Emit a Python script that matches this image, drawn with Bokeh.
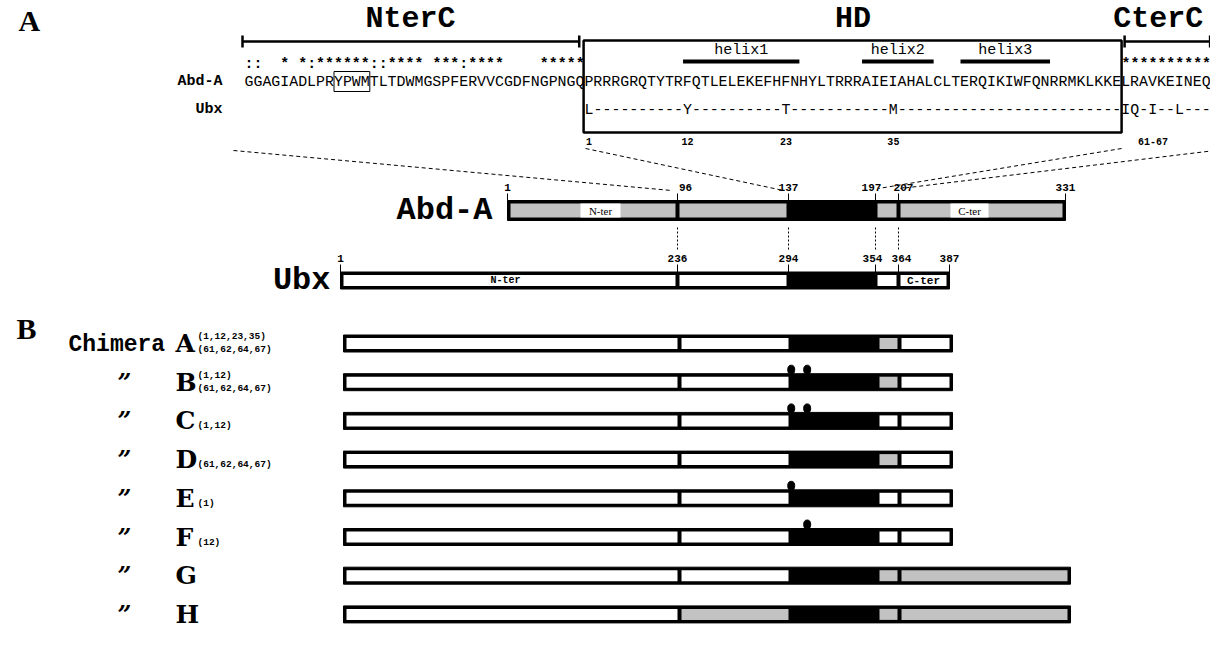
from bokeh.plotting import figure
from bokeh.models import Range1d
from bokeh.core.properties import value
from bokeh.embed import file_html
from bokeh.resources import INLINE
import numpy as np

# ---------------- data ----------------
nterc_seq = "GGAGIADLPRYPWMTLTDWMGSPFERVVCGDFNGPNGQ"
hd_seq = "PRRRGRQTYTRFQTLELEKEFHFNHYLTRRRAIEIAHALCLTERQIKIWFQNRRMKLKKE"
cterc_seq = "LRAVKEINEQ"
nterc_cons = "::  * *:******::**** ***:****    *****"
cterc_cons = "**********"
ubx_hd_pos = [1, 12, 23, 35]
ubx_hd_res = ["L", "Y", "T", "M"]
ubx_cterc = "IQ-I--L---"
cterc_mark = "61-67"
ypwm_start, ypwm_len = 10, 4
helix_names = ["helix1", "helix2", "helix3"]
helix_start = [12, 32, 43]
helix_end = [24, 39, 52]
region_names = ["NterC", "HD", "CterC"]

abd_bounds = [1, 96, 137, 197, 207, 331]
ubx_bounds = [1, 236, 294, 354, 364, 387]

chimera_names = ["A", "B", "C", "D", "E", "F", "G", "H"]
chimera_sup = ["(1,12,23,35)", "(1,12)", "", "", "", "", "", ""]
chimera_sub = ["(61,62,64,67)", "(61,62,64,67)", "(1,12)", "(61,62,64,67)", "(1)", "(12)", "", ""]
linker_src = ["Ubx", "Ubx", "Ubx", "Ubx", "Ubx", "Ubx", "Ubx", "AbdA"]
post_src = ["AbdA", "AbdA", "Ubx", "AbdA", "Ubx", "Ubx", "AbdA", "AbdA"]
cter_src = ["Ubx", "Ubx", "Ubx", "Ubx", "Ubx", "Ubx", "AbdA", "AbdA"]
hd_dots = [[], [1, 12], [1, 12], [], [1], [12], [], []]

# ---------------- layout ----------------
GRAY = "#c2c2c2"
WHITE = "#ffffff"
MONO = "Liberation Mono"
SERIF = "Liberation Serif"

p = figure(width=1210, height=642, x_range=Range1d(0, 1210), y_range=Range1d(642, 0),
           output_backend="svg", toolbar_location=None, min_border=0,
           x_axis_location=None, y_axis_location=None)
p.grid.visible = False
p.outline_line_color = None
p.background_fill_color = "white"
p.border_fill_color = "white"


def txt(x, y, s, size, font=MONO, style="normal", align="center", color="black"):
    p.text(x=[x], y=[y], text=[s], text_font=value(font), text_font_size=f"{size}px",
           text_font_style=style, text_align=align, text_baseline="middle", text_color=color)


# ---- panel A : alignment ----
X0, PITCH = 244.0, 8.95
FS = PITCH / 0.6
Y_HEAD, Y_BR, Y_HLAB, Y_CONS, Y_ABD, Y_UBX, Y_NUM = 18, 41, 50, 63, 81, 109, 141
n_n, n_hd, n_c = len(nterc_seq), len(hd_seq), len(cterc_seq)


def cx(i):
    return X0 + i * PITCH


txt(18, 20, "A", 30, SERIF, "bold", "left")

# brackets / box
p.segment(x0=[cx(0) - 2, cx(n_n + n_hd) + 3], y0=[Y_BR, Y_BR],
          x1=[cx(n_n - 0.6), cx(n_n + n_hd + n_c) - 1], y1=[Y_BR, Y_BR],
          line_width=2.5, line_color="black")
for xx in [cx(0) - 2, cx(n_n - 0.6), cx(n_n + n_hd) + 3, cx(n_n + n_hd + n_c) - 1]:
    p.segment(x0=[xx], y0=[Y_BR - 6], x1=[xx], y1=[Y_BR + 6], line_width=2.5, line_color="black")
p.quad(left=[cx(n_n) - 1], right=[cx(n_n + n_hd)], top=[40], bottom=[132],
       fill_alpha=0, line_color="black", line_width=2.5)

heads_x = [(cx(0) + cx(n_n)) / 2 - 4, (cx(n_n) + cx(n_n + n_hd)) / 2, (cx(n_n + n_hd) + cx(n_n + n_hd + n_c)) / 2 - 8]
for name, hx in zip(region_names, heads_x):
    txt(hx, Y_HEAD, name, 30, MONO, "bold")

# helices
for nm, s, e in zip(helix_names, helix_start, helix_end):
    l, r = cx(n_n + s - 1), cx(n_n + e)
    p.segment(x0=[l], y0=[Y_CONS - 2], x1=[r], y1=[Y_CONS - 2], line_width=4, line_color="black")
    txt((l + r) / 2, Y_HLAB, nm, 15, MONO)

# conservation row
cons = nterc_cons + " " * n_hd + cterc_cons
i = 0
while i < len(cons):
    if cons[i] == " ":
        i += 1
        continue
    j = i
    while j < len(cons) and cons[j] != " ":
        j += 1
    txt(cx(i), Y_CONS, cons[i:j], FS, MONO, "bold", "left")
    i = j

# sequences
txt(222, Y_ABD, "Abd-A", 15, MONO, "bold", "right")
txt(222, Y_UBX, "Ubx", 15, MONO, "bold", "right")
txt(cx(0), Y_ABD, nterc_seq + hd_seq + cterc_seq, FS, MONO, "normal", "left")
ubx_hd = ["-"] * n_hd
for pos, res in zip(ubx_hd_pos, ubx_hd_res):
    ubx_hd[pos - 1] = res
txt(cx(n_n), Y_UBX, "".join(ubx_hd) + ubx_cterc, FS, MONO, "normal", "left")
p.quad(left=[cx(ypwm_start)], right=[cx(ypwm_start + ypwm_len)], top=[Y_ABD - 10], bottom=[Y_ABD + 10],
       fill_alpha=0, line_color="black", line_width=1)

for pos in ubx_hd_pos:
    txt(cx(n_n + pos - 0.5), Y_NUM, str(pos), 10, MONO, "bold")
txt(cx(n_n + 63.5), Y_NUM, cterc_mark, 10, MONO, "bold")

# ---- protein schematics ----
COLS = [677, 788, 875, 898]
ABD_X = [507] + COLS + [1065]
UBX_X = [340] + COLS + [949]


def bar(xs, fills, yc, h, b=3):
    p.quad(left=[xs[0]], right=[xs[-1]], top=[yc - h / 2], bottom=[yc + h / 2],
           fill_color="black", line_color="black", line_width=1)
    for k, f in enumerate(fills):
        if f is None:
            continue
        l = xs[k] + (b if k == 0 else 2)
        r = xs[k + 1] - (b if k == len(fills) - 1 else 2)
        p.quad(left=[l], right=[r], top=[yc - h / 2 + b], bottom=[yc + h / 2 - b],
               fill_color=f, line_color=None)


Y_ABDBAR, Y_UBXBAR = 210, 280
# dashed zoom lines
p.segment(x0=[cx(0) - 11, cx(n_n) + 1, cx(n_n + n_hd), cx(n_n + n_hd + n_c) + 4],
          y0=[150, 148, 148, 150],
          x1=[ABD_X[1] - 6, ABD_X[2] - 5, ABD_X[3] + 3, ABD_X[4] + 2],
          y1=[190, 190, 188, 188], line_dash="4 3", line_width=1, line_color="black")

bar(ABD_X, [GRAY, GRAY, None, GRAY, GRAY], Y_ABDBAR, 20)
p.quad(left=[580], right=[620], top=[Y_ABDBAR - 7], bottom=[Y_ABDBAR + 7], fill_color="white", line_color=None)
txt(600, Y_ABDBAR, "N-ter", 11, SERIF)
p.quad(left=[950], right=[988], top=[Y_ABDBAR - 7], bottom=[Y_ABDBAR + 7], fill_color="white", line_color=None)
txt(969, Y_ABDBAR, "C-ter", 11, SERIF)
txt(492, Y_ABDBAR, "Abd-A", 32, MONO, "bold", "right")
abd_nudge = [0, 8, 0, -4, 5, 0]
for xx, lab, nd in zip(ABD_X, abd_bounds, abd_nudge):
    p.segment(x0=[xx], y0=[Y_ABDBAR - 17], x1=[xx], y1=[Y_ABDBAR - 10], line_width=1, line_color="black")
    txt(xx + nd, Y_ABDBAR - 23, str(lab), 11, MONO, "bold")

for xx in COLS:
    p.segment(x0=[xx], y0=[227], x1=[xx], y1=[249], line_dash="2 2", line_width=1, line_color="black")

bar(UBX_X, [WHITE, WHITE, None, WHITE, WHITE], Y_UBXBAR, 17)
txt(505, Y_UBXBAR, "N-ter", 10, MONO, "bold")
txt(923, Y_UBXBAR, "C-ter", 11, MONO, "bold")
txt(330, Y_UBXBAR, "Ubx", 32, MONO, "bold", "right")
ubx_nudge = [0, 0, 0, -3, 3, 0]
for xx, lab, nd in zip(UBX_X, ubx_bounds, ubx_nudge):
    p.segment(x0=[xx], y0=[Y_UBXBAR - 16], x1=[xx], y1=[Y_UBXBAR - 8], line_width=1, line_color="black")
    txt(xx + nd, Y_UBXBAR - 22, str(lab), 11, MONO, "bold")

# ---- panel B : chimeras ----
txt(16, 328, "B", 30, SERIF, "bold", "left")
txt(68, 344, "Chimera", 23, MONO, "bold", "left")
CH_X = [343, 679, 790, 877, 899]
col = {"Ubx": WHITE, "AbdA": GRAY}
for k, name in enumerate(chimera_names):
    yc = 343 + k * 38.7
    end = 1070 if cter_src[k] == "AbdA" else 952
    bar(CH_X + [end], [WHITE, col[linker_src[k]], None, col[post_src[k]], col[cter_src[k]]], yc, 17)
    if k > 0:
        txt(124, yc, "\u201D", 24, "DejaVu Serif", "bold italic")
    txt(175, yc, name, 25, "DejaVu Serif", "bold", "left")
    if chimera_sup[k] and chimera_sub[k]:
        txt(197, yc - 7, chimera_sup[k], 9.5, MONO, "bold", "left")
        txt(197, yc + 6, chimera_sub[k], 9.5, MONO, "bold", "left")
    elif chimera_sub[k]:
        txt(197, yc + 5, chimera_sub[k], 9.5, MONO, "bold", "left")
    hd_w = (CH_X[3] - CH_X[2]) / len(hd_seq)
    for d in hd_dots[k]:
        p.ellipse(x=[CH_X[2] + (d - 0.5) * hd_w], y=[yc - 8.5 - 4], width=7, height=9,
                  fill_color="black", line_color="black")

open("out.html", "w").write(file_html(p, INLINE))
